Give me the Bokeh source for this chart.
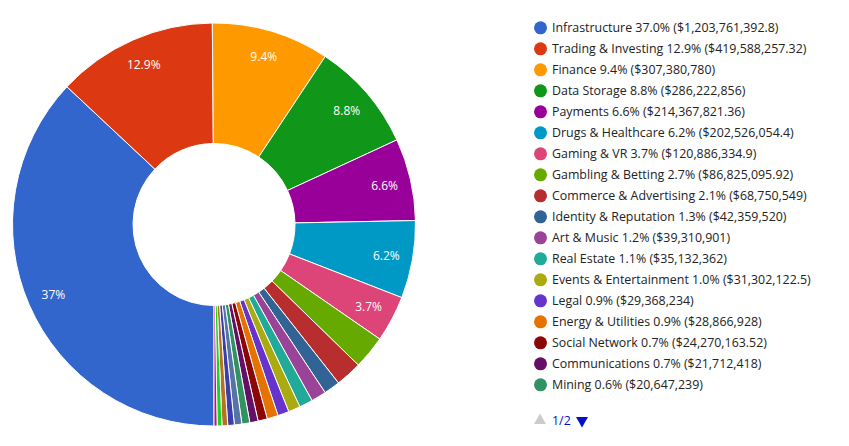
import numpy as np
from bokeh.plotting import figure
from bokeh.models import Range1d, ColumnDataSource
from bokeh.core.properties import value
from bokeh.embed import file_html
from bokeh.resources import INLINE

# ---- data ----
categories = [
    "Infrastructure", "Trading & Investing", "Finance", "Data Storage", "Payments",
    "Drugs & Healthcare", "Gaming & VR", "Gambling & Betting", "Commerce & Advertising",
    "Identity & Reputation", "Art & Music", "Real Estate", "Events & Entertainment",
    "Legal", "Energy & Utilities", "Social Network", "Communications", "Mining",
    # page 2 of the legend (not visible in the reference)
    "Education", "Transportation", "Insurance", "Charity", "Tourism",
]
amounts = [
    1203761392.8, 419588257.32, 307380780, 286222856, 214367821.36,
    202526054.4, 120886334.9, 86825095.92, 68750549,
    42359520, 39310901, 35132362, 31302122.5,
    29368234, 28866928, 24270163.52, 21712418, 20647239,
    19500000, 17000000, 15000000, 12500000, 8000000,
]
colors = [
    "#3366cc", "#dc3912", "#ff9900", "#109618", "#990099", "#0099c6", "#dd4477",
    "#66aa00", "#b82e2e", "#316395", "#994499", "#22aa99", "#aaaa11", "#6633cc",
    "#e67300", "#8b0707", "#651067", "#329262", "#5574a6", "#3b3eac", "#b77322",
    "#16d620", "#b91383",
]
legend_rows_shown = 18
page_text = "1/2"

# ---- geometry (screen px, y measured downward in the window) ----
W, H = 849, 446
cx, cy = 213.5, 224.0
r_out, r_in, r_lab = 201.5, 81.0, 175.0
start_deg = 180.0  # clockwise from 12 o'clock


def Y(ys):
    return H - np.asarray(ys, dtype=float)


vals = np.array(amounts, dtype=float)
total = vals.sum()
frac = vals / total
pct = frac * 100
cum = np.concatenate([[0], np.cumsum(frac)])
theta1 = start_deg + cum[:-1] * 360  # clockwise-from-top degrees
theta2 = start_deg + cum[1:] * 360
a_start = np.radians(90 - theta2)
a_end = np.radians(90 - theta1)

p = figure(width=833, height=430, output_backend="svg", toolbar_location=None,
           x_range=Range1d(0, 833), y_range=Range1d(16, 446), min_border=0)
p.axis.visible = False
p.grid.visible = False
p.outline_line_color = None
p.background_fill_color = "white"

src = ColumnDataSource(dict(s=a_start, e=a_end, c=colors))
p.annular_wedge(x=cx, y=H - cy, inner_radius=r_in, outer_radius=r_out,
                start_angle="s", end_angle="e", direction="anticlock",
                fill_color="c", line_color="white", line_width=1, source=src)

# slice labels
mid = np.radians(90 - (theta1 + theta2) / 2)
lab_txt, lab_x, lab_y = [], [], []
for i in range(len(vals)):
    if pct[i] >= 3.5:
        t = f"{pct[i]:.1f}".rstrip("0").rstrip(".") + "%"
        lab_txt.append(t)
        lab_x.append(cx + r_lab * np.cos(mid[i]))
        lab_y.append(H - cy + r_lab * np.sin(mid[i]))
p.text(x=lab_x, y=lab_y, text=lab_txt, text_color="white",
       text_font=value("Open Sans"), text_font_size="12px",
       text_align="center", text_baseline="middle")


def money(v):
    s = f"{v:,.2f}".rstrip("0").rstrip(".")
    return "$" + s


# legend
n = legend_rows_shown
row_y = 27.3 + 21.0 * np.arange(n)
leg_text = [f"{categories[i]} {pct[i]:.1f}% ({money(amounts[i])})" for i in range(n)]
p.scatter(x=[540] * n, y=Y(row_y), size=13, marker="circle",
          fill_color=colors[:n], line_color=None)
p.text(x=[551.5] * n, y=Y(row_y), text=leg_text, text_color="#222222",
       text_font=value("Open Sans"), text_font_size="12.4px",
       text_align="left", text_baseline="middle")

# pagination
py = 420.0
p.scatter(x=[539.5], y=Y([py]), marker="triangle", size=12,
          fill_color="#cccccc", line_color=None)
p.text(x=[551.5], y=Y([py]), text=[page_text], text_color="#0011cc",
       text_font=value("Open Sans"), text_font_size="12.4px",
       text_align="left", text_baseline="middle")
p.scatter(x=[581.5], y=Y([py]), marker="inverted_triangle", size=12,
          fill_color="#0011cc", line_color=None)

open("out.html", "w").write(file_html(p, INLINE))
